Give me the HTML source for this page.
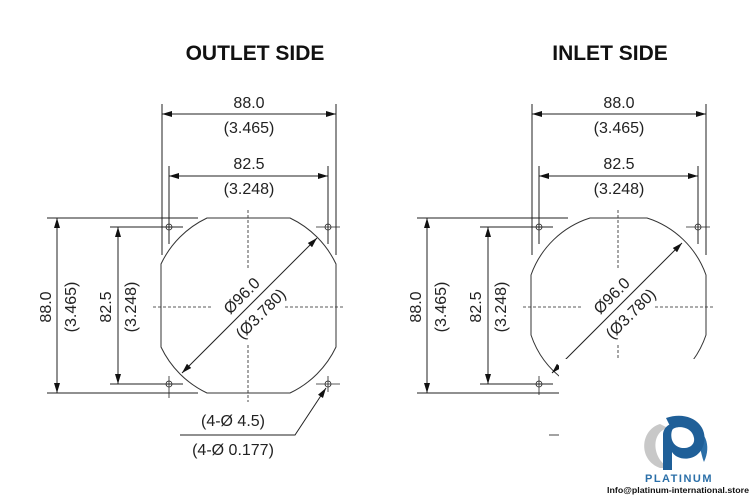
<!DOCTYPE html>
<html><head><style>
html,body{margin:0;padding:0;background:#fff;}
svg{display:block;}
text{font-family:"Liberation Sans",Arial,sans-serif;fill:#222;}
</style></head><body>
<svg width="750" height="500" viewBox="0 0 750 500" xmlns="http://www.w3.org/2000/svg">
<defs>
<marker id="a" viewBox="0 0 10 6" refX="10" refY="3" markerWidth="20" markerHeight="6" markerUnits="userSpaceOnUse" orient="auto-start-reverse">
<path d="M0,0 L10,3 L0,6 Z" fill="#111"/></marker>
<g id="dims" stroke="#222" stroke-width="1" fill="none">
<line x1="162" y1="104" x2="162" y2="255"/>
<line x1="336" y1="104" x2="336" y2="255"/>
<line x1="162" y1="114" x2="336" y2="114" marker-start="url(#a)" marker-end="url(#a)"/>
<line x1="169" y1="166" x2="169" y2="244"/>
<line x1="328" y1="166" x2="328" y2="244"/>
<line x1="169" y1="176" x2="328" y2="176" marker-start="url(#a)" marker-end="url(#a)"/>
<line x1="47" y1="218" x2="198" y2="218"/>
<line x1="47" y1="393" x2="198" y2="393"/>
<line x1="57" y1="218" x2="57" y2="393" marker-start="url(#a)" marker-end="url(#a)"/>
<line x1="110" y1="227" x2="183" y2="227"/>
<line x1="110" y1="384" x2="183" y2="384"/>
<line x1="118" y1="227" x2="118" y2="384" marker-start="url(#a)" marker-end="url(#a)"/>
<g stroke-width="0.8">
<circle cx="169" cy="227" r="3"/><line x1="162" y1="227" x2="183" y2="227"/><line x1="169" y1="220" x2="169" y2="236"/>
<circle cx="328" cy="227" r="3"/><line x1="316" y1="227" x2="340" y2="227"/><line x1="328" y1="216" x2="328" y2="236"/>
<circle cx="169" cy="384" r="3"/><line x1="169" y1="376" x2="169" y2="398"/>
<circle cx="328" cy="384" r="3"/><line x1="316" y1="384" x2="340" y2="384"/><line x1="328" y1="376" x2="328" y2="392"/>
</g>
<g stroke-dasharray="3,2" stroke-width="0.8">
<line x1="153" y1="307" x2="212" y2="307"/><line x1="285" y1="307" x2="345" y2="307"/>
<line x1="248" y1="210" x2="248" y2="270"/><line x1="248" y1="345" x2="248" y2="402"/>
</g>
</g>
</defs>

<text x="255" y="60" font-size="21" font-weight="bold" text-anchor="middle" style="fill:#111">OUTLET SIDE</text>
<text x="610" y="60" font-size="21" font-weight="bold" text-anchor="middle" style="fill:#111">INLET SIDE</text>

<use href="#dims"/>
<path d="M207,218 L290,218 A96.8,96.8 0 0 1 336,264 L336,347 A96.8,96.8 0 0 1 290,393 L207,393 A96.8,96.8 0 0 1 161,347 L161,264 A96.8,96.8 0 0 1 207,218 Z" fill="none" stroke="#333" stroke-width="1"/>
<line x1="182" y1="373" x2="317" y2="238" stroke="#222" marker-start="url(#a)" marker-end="url(#a)"/>
<path d="M326,388 L295,435 L180,435" fill="none" stroke="#222" marker-start="url(#a)" stroke-width="1"/>

<g transform="translate(370,0)">
<use href="#dims"/>
<path d="M220,218 L277,218 A92,92 0 0 1 336,275 L336,335 A92,92 0 0 1 248.5,397.5 A92,92 0 0 1 161,335 L161,275 A92,92 0 0 1 220,218 Z" fill="none" stroke="#333" stroke-width="1"/>
<line x1="182" y1="373" x2="312" y2="243" stroke="#222" marker-start="url(#a)" marker-end="url(#a)"/>
</g>
<rect x="559" y="359" width="191" height="141" fill="#fff"/>
<rect x="400" y="395" width="159" height="105" fill="#fff"/>
<line x1="549" y1="435" x2="559" y2="435" stroke="#444"/>

<g font-size="16" text-anchor="middle">
<text x="249" y="108">88.0</text><text x="249" y="133">(3.465)</text>
<text x="249" y="169">82.5</text><text x="249" y="194">(3.248)</text>
<text x="619" y="108">88.0</text><text x="619" y="133">(3.465)</text>
<text x="619" y="169">82.5</text><text x="619" y="194">(3.248)</text>
<g transform="translate(51,307) rotate(-90)"><text x="0" y="0">88.0</text></g>
<g transform="translate(76,307) rotate(-90)"><text x="0" y="0">(3.465)</text></g>
<g transform="translate(111,307) rotate(-90)"><text x="0" y="0">82.5</text></g>
<g transform="translate(136,307) rotate(-90)"><text x="0" y="0">(3.248)</text></g>
<g transform="translate(421,307) rotate(-90)"><text x="0" y="0">88.0</text></g>
<g transform="translate(446,307) rotate(-90)"><text x="0" y="0">(3.465)</text></g>
<g transform="translate(481,307) rotate(-90)"><text x="0" y="0">82.5</text></g>
<g transform="translate(506,307) rotate(-90)"><text x="0" y="0">(3.248)</text></g>
<g transform="translate(242,296) rotate(-45)"><text x="0" y="5">Ø96.0</text></g>
<g transform="translate(261,314) rotate(-45)"><text x="0" y="5">(Ø3.780)</text></g>
<g transform="translate(612,296) rotate(-45)"><text x="0" y="5">Ø96.0</text></g>
<g transform="translate(631,314) rotate(-45)"><text x="0" y="5">(Ø3.780)</text></g>
<text x="233" y="426">(4-Ø 4.5)</text>
<text x="233" y="455">(4-Ø 0.177)</text>
</g>

<path d="M660,424 C640,430 638,460 660,468 L670,468 C652,460 650,432 668,428 Z" fill="#c8c8c8"/>
<path d="M690,424 C705,430 712,445 704,462 C700,452 700,438 690,424 Z" fill="#2b6fa8"/>
<path d="M666,418 C690,410 708,425 704,443 C700,462 678,462 672,452 L672,470 L663,470 L663,435 C663,425 675,420 685,423 C672,424 670,432 672,440 C676,452 696,450 694,438 C692,426 676,425 672,430 Z" fill="#1f5f98"/>
<text x="679" y="482" font-size="11" font-weight="bold" text-anchor="middle" style="fill:#2b6fa8;letter-spacing:1.5px">PLATINUM</text>
<text x="678" y="493" font-size="8.5" font-weight="bold" text-anchor="middle" textLength="142" lengthAdjust="spacingAndGlyphs" style="fill:#111">Info@platinum-international.store</text>
</svg>
</body></html>
